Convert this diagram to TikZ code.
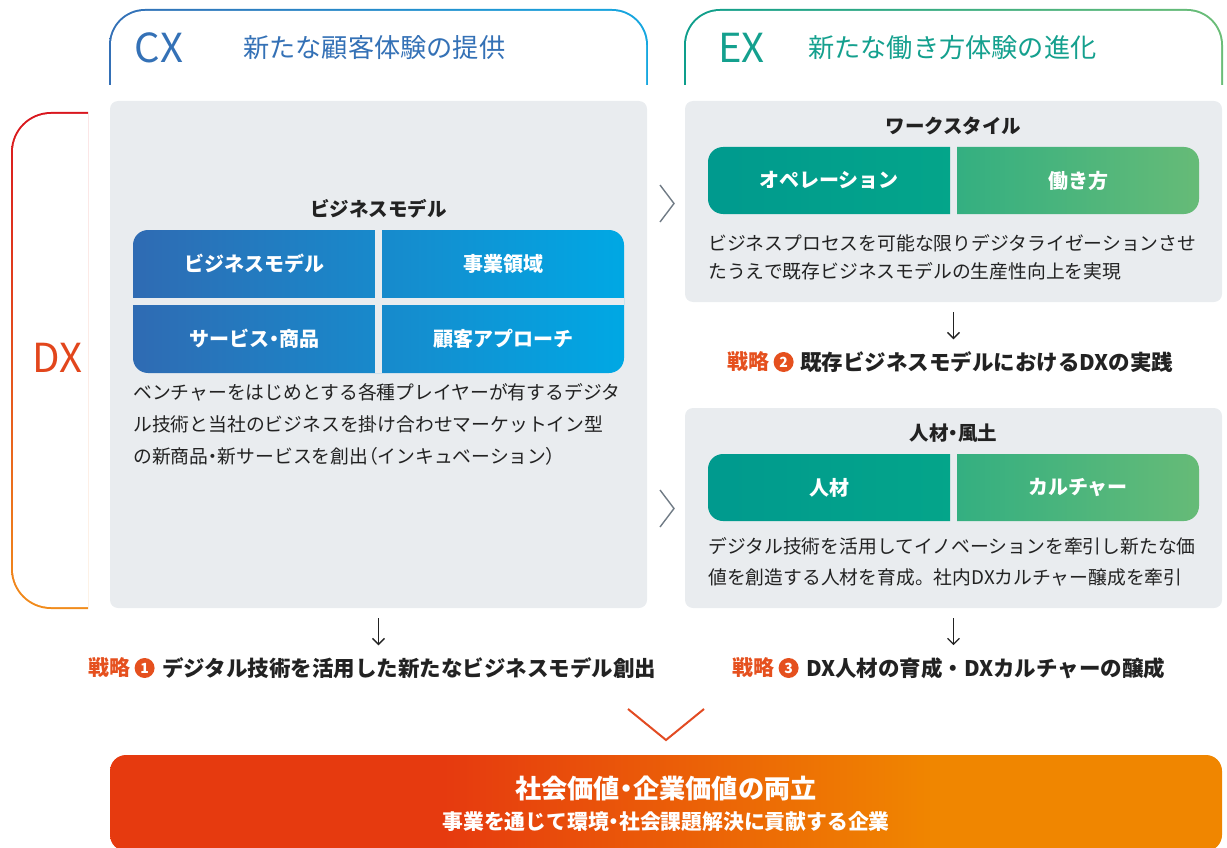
\documentclass[tikz,border=0pt]{standalone}
\usepackage{fontspec}
\setmainfont{Noto Sans CJK JP}
\usetikzlibrary{arrows.meta,positioning}

\definecolor{cxtext}{HTML}{3471B6}
\definecolor{cxbrL}{HTML}{3470B6}
\definecolor{cxbrR}{HTML}{16A7E0}
\definecolor{extext}{HTML}{14A08E}
\definecolor{exbrL}{HTML}{0E9E8C}
\definecolor{exbrR}{HTML}{6BBD77}
\definecolor{dxred}{HTML}{D9161E}
\definecolor{dxorange}{HTML}{F18C1C}
\definecolor{dxtext}{HTML}{E2461C}
\definecolor{boxgray}{HTML}{E9ECEF}
\definecolor{gridL}{HTML}{2F6BB3}
\definecolor{gridR}{HTML}{00A8E4}
\definecolor{bandL}{HTML}{009A8E}
\definecolor{bandX}{HTML}{08B086}
\definecolor{bandY}{HTML}{00A38B}
\definecolor{bandR}{HTML}{66BB77}
\definecolor{stratred}{HTML}{E5501E}
\definecolor{barL}{HTML}{E63A0F}
\definecolor{barR}{HTML}{F08600}
\definecolor{chevgray}{HTML}{707B85}
\definecolor{vred}{HTML}{E24B22}
\definecolor{ink}{HTML}{222222}

\pgfdeclarehorizontalshading{barshade}{100bp}{color(0bp)=(barL); color(40bp)=(barL); color(62bp)=(barR); color(100bp)=(barR)}

% proportional middle dot and brackets
\newcommand{\nkdot}{{\addfontfeature{RawFeature=+palt}・}}
\newcommand{\lparen}{{\addfontfeature{RawFeature=+palt}（}}
\newcommand{\rparen}{{\addfontfeature{RawFeature=+palt}）}}

\tikzset{
  graybox/.style={fill=boxgray, rounded corners=8pt, minimum width=537pt, inner sep=0pt},
  boxtitle/.style={font=\fontsize{19.5}{19.5}\selectfont\bfseries, text=ink, inner sep=0pt},
  celltext/.style={font=\fontsize{20}{20}\selectfont\bfseries, text=white, inner sep=0pt},
  desc/.style={anchor=north west, align=left, inner sep=0pt, text=ink},
  strlabel/.style={font=\fontsize{21}{21}\selectfont\bfseries, text=stratred, inner sep=0pt, anchor=west},
  strnum/.style={circle, fill=stratred, text=white, minimum size=20pt, inner sep=0pt, font=\fontsize{14}{14}\selectfont\bfseries},
  strtext/.style={font=\fontsize{21.5}{21.5}\selectfont\bfseries, text=ink, inner sep=0pt},
  bigtag/.style={font=\fontsize{40}{40}\selectfont, inner sep=0pt},
  headtitle/.style={font=\fontsize{26.2}{26.2}\selectfont, inner sep=0pt, anchor=west},
  chev/.style={draw=chevgray, line width=1.4pt},
  vchev/.style={draw=vred, line width=2pt},
  dnarrow/.style={-{Straight Barb[length=6pt,width=12pt]}, line width=1.3pt, draw=ink},
  gapline/.style={draw=boxgray, line width=7pt},
}

\begin{document}
\begin{tikzpicture}[x=1pt, y=-1pt]
\useasboundingbox (0,0) rectangle (1227,848);

% header brackets
\begin{scope}
  \clip (100,0) rectangle (660,85);
  \shade[left color=cxbrL, right color=cxbrR, rounded corners=36pt] (109,9) rectangle (648,200);
  \fill[white, rounded corners=34pt] (111,11) rectangle (646,200);
\end{scope}
\begin{scope}
  \clip (675,0) rectangle (1227,85);
  \shade[left color=exbrL, right color=exbrR, rounded corners=36pt] (684,9) rectangle (1223,200);
  \fill[white, rounded corners=34pt] (686,11) rectangle (1221,200);
\end{scope}
% DX bracket
\begin{scope}
  \clip (0,100) rectangle (88,620);
  \shade[top color=dxred, bottom color=dxorange, rounded corners=40pt] (11,112) rectangle (300,609);
  \fill[white, rounded corners=38pt] (13,114) rectangle (300,607);
\end{scope}

\node[bigtag, text=cxtext] (cx) at (159,48) {CX};
\node[headtitle, text=cxtext] (cxhead) at (243,48) {新たな顧客体験の提供};
\node[bigtag, text=extext] (ex) at (741.5,48) {EX};
\node[headtitle, text=extext] (exhead) at (808,48) {新たな働き方体験の進化};
\node[bigtag, text=dxtext] (dx) at (57.5,358) {DX};

% gray boxes
\node[graybox, minimum height=507pt] (cxbox) at (378.5,354.5) {};
\node[graybox, minimum height=201pt] (wsbox) at (953.5,201.5) {};
\node[graybox, minimum height=200pt] (hrbox) at (953.5,508) {};

% business model grid
\node[boxtitle] (bmtitle) at (378.5,209) {ビジネスモデル};
\shade[left color=gridL, right color=gridR, rounded corners=15pt] (133,230) rectangle (624,373);
\draw[gapline] (378.5,230) -- (378.5,373);
\draw[gapline] (133,301) -- (624,301);
\node[celltext] (bm) at (254,263.5) {ビジネスモデル};
\node[celltext] (area) at (503,263.5) {事業領域};
\node[celltext] (svc) at (254,339) {サービス\nkdot 商品};
\node[celltext] (appr) at (503,339) {顧客アプローチ};
\node[desc, font=\fontsize{18.8}{32}\selectfont] (cxdesc) at (133,383)
  {ベンチャーをはじめとする各種プレイヤーが有するデジタ\\
   ル技術と当社のビジネスを掛け合わせマーケットイン型\\
   の新商品\nkdot 新サービスを創出\lparen インキュベーション\rparen};

% work style
\node[boxtitle] (wstitle) at (953.5,126) {ワークスタイル};
\begin{scope}
  \clip (700,140) rectangle (950,220);
  \shade[left color=bandL, right color=bandX, rounded corners=15pt] (708,147) rectangle (1199,214);
\end{scope}
\begin{scope}
  \clip (957,140) rectangle (1210,220);
  \shade[left color=bandY, right color=bandR, rounded corners=15pt] (708,147) rectangle (1199,214);
\end{scope}
\node[celltext] (ops) at (829,180.5) {オペレーション};
\node[celltext] (work) at (1078,180.5) {働き方};
\node[desc, font=\fontsize{18.8}{28}\selectfont] (wsdesc) at (708,234)
  {ビジネスプロセスを可能な限りデジタライゼーションさせ\\
   たうえで既存ビジネスモデルの生産性向上を実現};

% people and culture
\node[boxtitle] (hrtitle) at (953.5,433) {人材\nkdot 風土};
\begin{scope}
  \clip (700,447) rectangle (950,527);
  \shade[left color=bandL, right color=bandX, rounded corners=15pt] (708,454) rectangle (1199,521);
\end{scope}
\begin{scope}
  \clip (957,447) rectangle (1210,527);
  \shade[left color=bandY, right color=bandR, rounded corners=15pt] (708,454) rectangle (1199,521);
\end{scope}
\node[celltext] (talent) at (829,487.5) {人材};
\node[celltext] (culture) at (1078,487.5) {カルチャー};
\node[desc, font=\fontsize{18.8}{31}\selectfont] (hrdesc) at (708,537)
  {デジタル技術を活用してイノベーションを牽引し新たな価\\
   値を創造する人材を育成。社内DXカルチャー醸成を牽引};

% chevrons between columns
\draw[chev] (660,185) -- (674,203.5) -- (660,222);
\draw[chev] (660,490) -- (674,508.5) -- (660,527);

% strategies
\node[strlabel] (s1a) at (88,668) {戦略};
\node[strnum, right=4pt of s1a] (s1n) {1};
\node[strtext, right=7pt of s1n] (s1t) {デジタル技術を活用した新たなビジネスモデル創出};

\node[strlabel] (s2a) at (727,362) {戦略};
\node[strnum, right=4pt of s2a] (s2n) {2};
\node[strtext, right=6pt of s2n] (s2t) {既存ビジネスモデルにおけるDXの実践};

\node[strlabel] (s3a) at (732,668) {戦略};
\node[strnum, right=4pt of s3a] (s3n) {3};
\node[strtext, right=7pt of s3n] (s3t) {DX人材の育成・DXカルチャーの醸成};

\draw[dnarrow] ([yshift=-10pt]cxbox.south) -- ([yshift=12pt]cxbox.south |- s1t.north);
\draw[dnarrow] ([yshift=-10pt]wsbox.south) -- ([yshift=12pt]wsbox.south |- s2t.north);
\draw[dnarrow] ([yshift=-10pt]hrbox.south) -- ([yshift=12pt]hrbox.south |- s3t.north);

\draw[vchev] (628,709) -- (666,740) -- (704,709);

% goal bar
\begin{scope}
  \clip (0,0) rectangle (1227,848);
  \shade[shading=barshade, rounded corners=16pt] (110,755) rectangle (1222,851);
\end{scope}
\node[font=\fontsize{26.2}{26.2}\selectfont\bfseries, text=white, inner sep=0pt] (goal) at (666,788) {社会価値\nkdot 企業価値の両立};
\node[font=\fontsize{20.8}{20.8}\selectfont\bfseries, text=white, inner sep=0pt] (goalsub) at (666,822) {事業を通じて環境\nkdot 社会課題解決に貢献する企業};
\end{tikzpicture}
\end{document}
